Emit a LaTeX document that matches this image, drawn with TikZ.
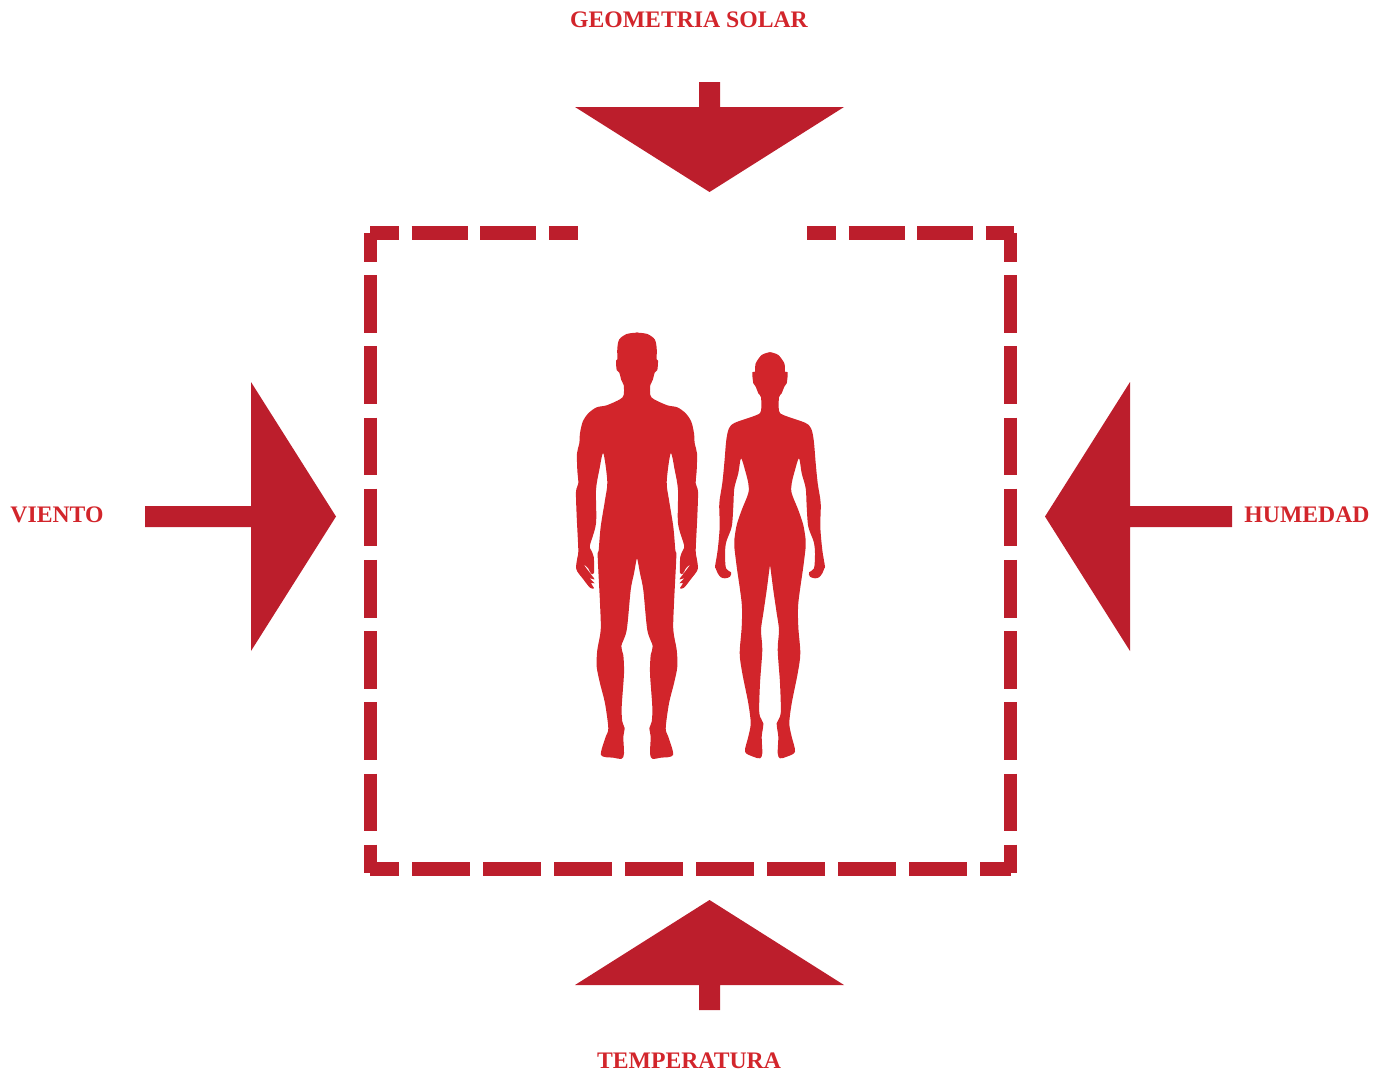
\documentclass[tikz,border=0pt]{standalone}
\usepackage{fontspec}
\setmainfont{Liberation Serif}
\usepackage{xcolor}
\usetikzlibrary{calc}
\definecolor{arrowc}{HTML}{BC1E2C}
\definecolor{bodyc}{HTML}{D2252B}
\tikzset{
  lab/.style={font=\bfseries\fontsize{23.7}{24}\selectfont,text=bodyc,inner sep=0pt},
  vdash/.style={arrowc,line width=13.5pt,dash pattern=on 57.6pt off 13.6pt,dash phase=29.1pt},
  tdash/.style={arrowc,line width=14pt,dash pattern=on 56pt off 12.6pt,dash phase=27pt},
  bdash/.style={arrowc,line width=14pt,dash pattern=on 58pt off 13pt,dash phase=29pt},
  arrowfill/.style={fill=arrowc,draw=none},
  bodyfill/.style={fill=bodyc,draw=none}
}
\begin{document}
\begin{tikzpicture}[x=1pt,y=-1pt]
\useasboundingbox (0,0) rectangle (1388,1076);
% labels
\node[lab] (solar) at (689,19.5) {GEOMETRIA SOLAR};
\node[lab] (temp) at (689,1060.5) {TEMPERATURA};
\node[lab] (wind) at (57,514.5) {VIENTO};
\node[lab] (hum) at (1307,514.5) {HUMEDAD};
% arrows
\fill[arrowfill] (699,82)--(720,82)--(720,107)--(844,107)--(709.5,192)--(575,107)--(699,107)--cycle;
\fill[arrowfill] (699,1010)--(720,1010)--(720,985)--(844,985)--(709.5,900)--(575,985)--(699,985)--cycle;
\fill[arrowfill] (145,506)--(145,527)--(251,527)--(251,651)--(336,516.5)--(251,382)--(251,506)--cycle;
\fill[arrowfill] (1232,506)--(1232,527)--(1130,527)--(1130,651)--(1045,516.5)--(1130,382)--(1130,506)--cycle;
% dashed frame
\draw[vdash] (370.4,233)--(370.4,873);
\draw[vdash] (1010.4,233)--(1010.4,873);
\draw[tdash] (370,233)--(578,233);
\draw[tdash] (807,233)--(1014,233);
\draw[bdash] (370,869)--(1011,869);
% man
\foreach \side in {1,-1}{
\fill[bodyfill,xshift=637pt,xscale=\side] plot[smooth,tension=0.5] coordinates {
(-1,332.7)(-10.3,334)(-17.7,339.3)(-19.7,348.3)(-19.7,359.3)(-21,360.7)(-20.3,370)(-17.7,372.7)(-15.7,380)(-13.3,385)(-13.3,395)
(-17,399.3)(-30.3,405.3)(-40.3,407.3)(-48.7,413.3)(-54.3,421.7)(-57,433.3)(-57.7,443.3)(-60,453.3)(-59.7,470)(-58.7,483.3)(-61,491.7)
(-60.3,516.7)(-58.7,550)(-59.7,558)(-60.7,569.3)(-53.7,579.3)(-47,587.7)(-43,588.3)(-46,583)(-42.5,583.3)(-47,578.5)(-42.5,579.3)
(-45.5,575)(-53,565)(-49,568)(-46,573.5)(-43,572.7)(-43.3,556.7)(-46,550)(-47,545)(-41,523.3)(-41,490)(-37.7,470)(-33.7,453.3)
(-29.7,481.7)(-32,500)(-36.3,526.7)(-38.3,550)(-39.3,556.7)(-37,603.3)(-36.3,630)(-39.7,650)(-40.3,666.7)(-37,683.3)(-32,703.3)
(-28.7,728.3)(-31.3,736.7)(-36,755)(-23.7,757.7)(-15.3,758.7)(-13,753.3)(-13.7,736.7)(-12.3,728.3)(-14.7,721.7)(-15.3,706.7)(-13,673.3)
(-13.7,655)(-15.7,646)(-10.3,630)(-6.3,590)(-3,573.3)(-0.3,559)(1,559)} -- (1,332.7) -- cycle;
}
% woman
\foreach \side in {1,-1}{
\fill[bodyfill,xshift=770pt,xscale=\side] plot[smooth,tension=0.5] coordinates {
(-1,352.3)(-8.3,355)(-14.3,363.3)(-15,371.7)(-17.7,372.3)(-16.7,383.3)(-14.3,386.7)(-11.7,393.3)(-9,397.3)(-9,410.7)(-13.3,415)
(-35,422.7)(-41,428.3)(-43.7,440)(-45.7,463.3)(-47.7,483.3)(-50.7,503.3)(-50.3,526.7)(-52.3,550)(-55,566.7)(-54.3,568.3)(-52.3,573.3)
(-49,577.3)(-45,578.3)(-40,576.7)(-39,572.3)(-44,568.3)(-45,553.3)(-43.7,541.7)(-38.3,526.7)(-36.7,506.7)(-35.7,488.3)(-31.7,473.3)
(-29,458.3)(-25,470)(-21.7,483.3)(-21.7,493.3)(-28.3,510)(-33.3,525)(-35.7,540)(-35.7,546.7)(-33.3,566.7)(-28.3,603.3)(-28.3,626.7)
(-30.3,653.3)(-27.7,673.3)(-21.7,703.3)(-19.3,723.3)(-21.7,736.7)(-25,751.7)(-16.7,756.7)(-10,758.3)(-7.7,753.3)(-8.3,736.7)(-6.7,723.3)
(-10.7,713.3)(-10,683.3)(-7.7,650)(-9,630)(-6.7,613.3)(-3.3,590)(0,565)(1,565)} -- (1,352.3) -- cycle;
}
\end{tikzpicture}
\end{document}
